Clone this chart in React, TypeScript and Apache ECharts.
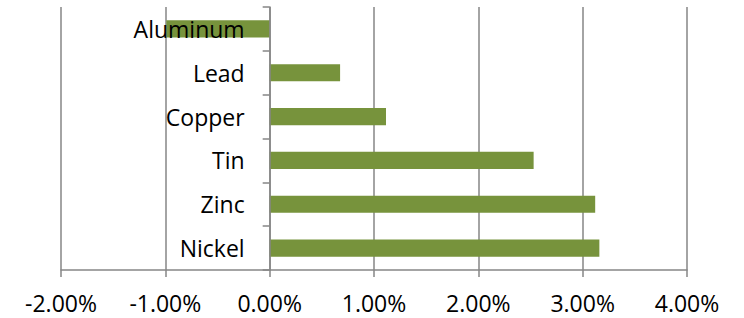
import React, { useEffect, useRef } from "react";
import * as echarts from "echarts";

const categories = ["Nickel", "Zinc", "Tin", "Copper", "Lead", "Aluminum"];
const values = [3.16, 3.12, 2.53, 1.115, 0.675, -0.99];
const xTicks = { min: -2, max: 4, interval: 1 };

const W = 744;
const H = 318;
const GRID = { left: 61, right: 57, top: 7, bottom: 48 };

export default function App() {
  const ref = useRef<HTMLDivElement>(null);
  useEffect(() => {
    const chart = echarts.init(ref.current!, null, { renderer: "svg" });
    const font = "'Open Sans', sans-serif";
    const plotW = W - GRID.left - GRID.right;
    const zeroOffset = (plotW * (0 - xTicks.min)) / (xTicks.max - xTicks.min);
    chart.setOption({
      animation: false,
      grid: { ...GRID, containLabel: false, outerBoundsMode: "none" },
      xAxis: {
        type: "value",
        min: xTicks.min,
        max: xTicks.max,
        interval: xTicks.interval,
        axisLine: { show: true, onZero: false, lineStyle: { color: "#868686", width: 1.5 } },
        axisTick: { show: true, length: 7, lineStyle: { color: "#868686", width: 1.5 } },
        splitLine: { show: true, lineStyle: { color: "#868686", width: 1.5 } },
        axisLabel: {
          margin: 21,
          color: "#000",
          fontSize: 23,
          fontFamily: font,
          formatter: (v: number) => v.toFixed(2) + "%",
        },
      },
      yAxis: {
        type: "category",
        data: categories,
        z: 5,
        offset: -zeroOffset,
        axisLine: { show: true, onZero: false, lineStyle: { color: "#868686", width: 1.5 } },
        axisTick: { show: true, length: 7, lineStyle: { color: "#868686", width: 1.5 } },
        axisLabel: {
          margin: 25,
          color: "#000",
          fontSize: 23,
          fontFamily: font,
        },
      },
      series: [
        {
          type: "bar",
          data: values,
          barWidth: "39%",
          itemStyle: { color: "#77933C" },
        },
      ],
    });
    return () => chart.dispose();
  }, []);
  return (
    <div
      ref={ref}
      style={{ position: "fixed", left: 0, top: 0, width: W, height: H, background: "#fff" }}
    />
  );
}
